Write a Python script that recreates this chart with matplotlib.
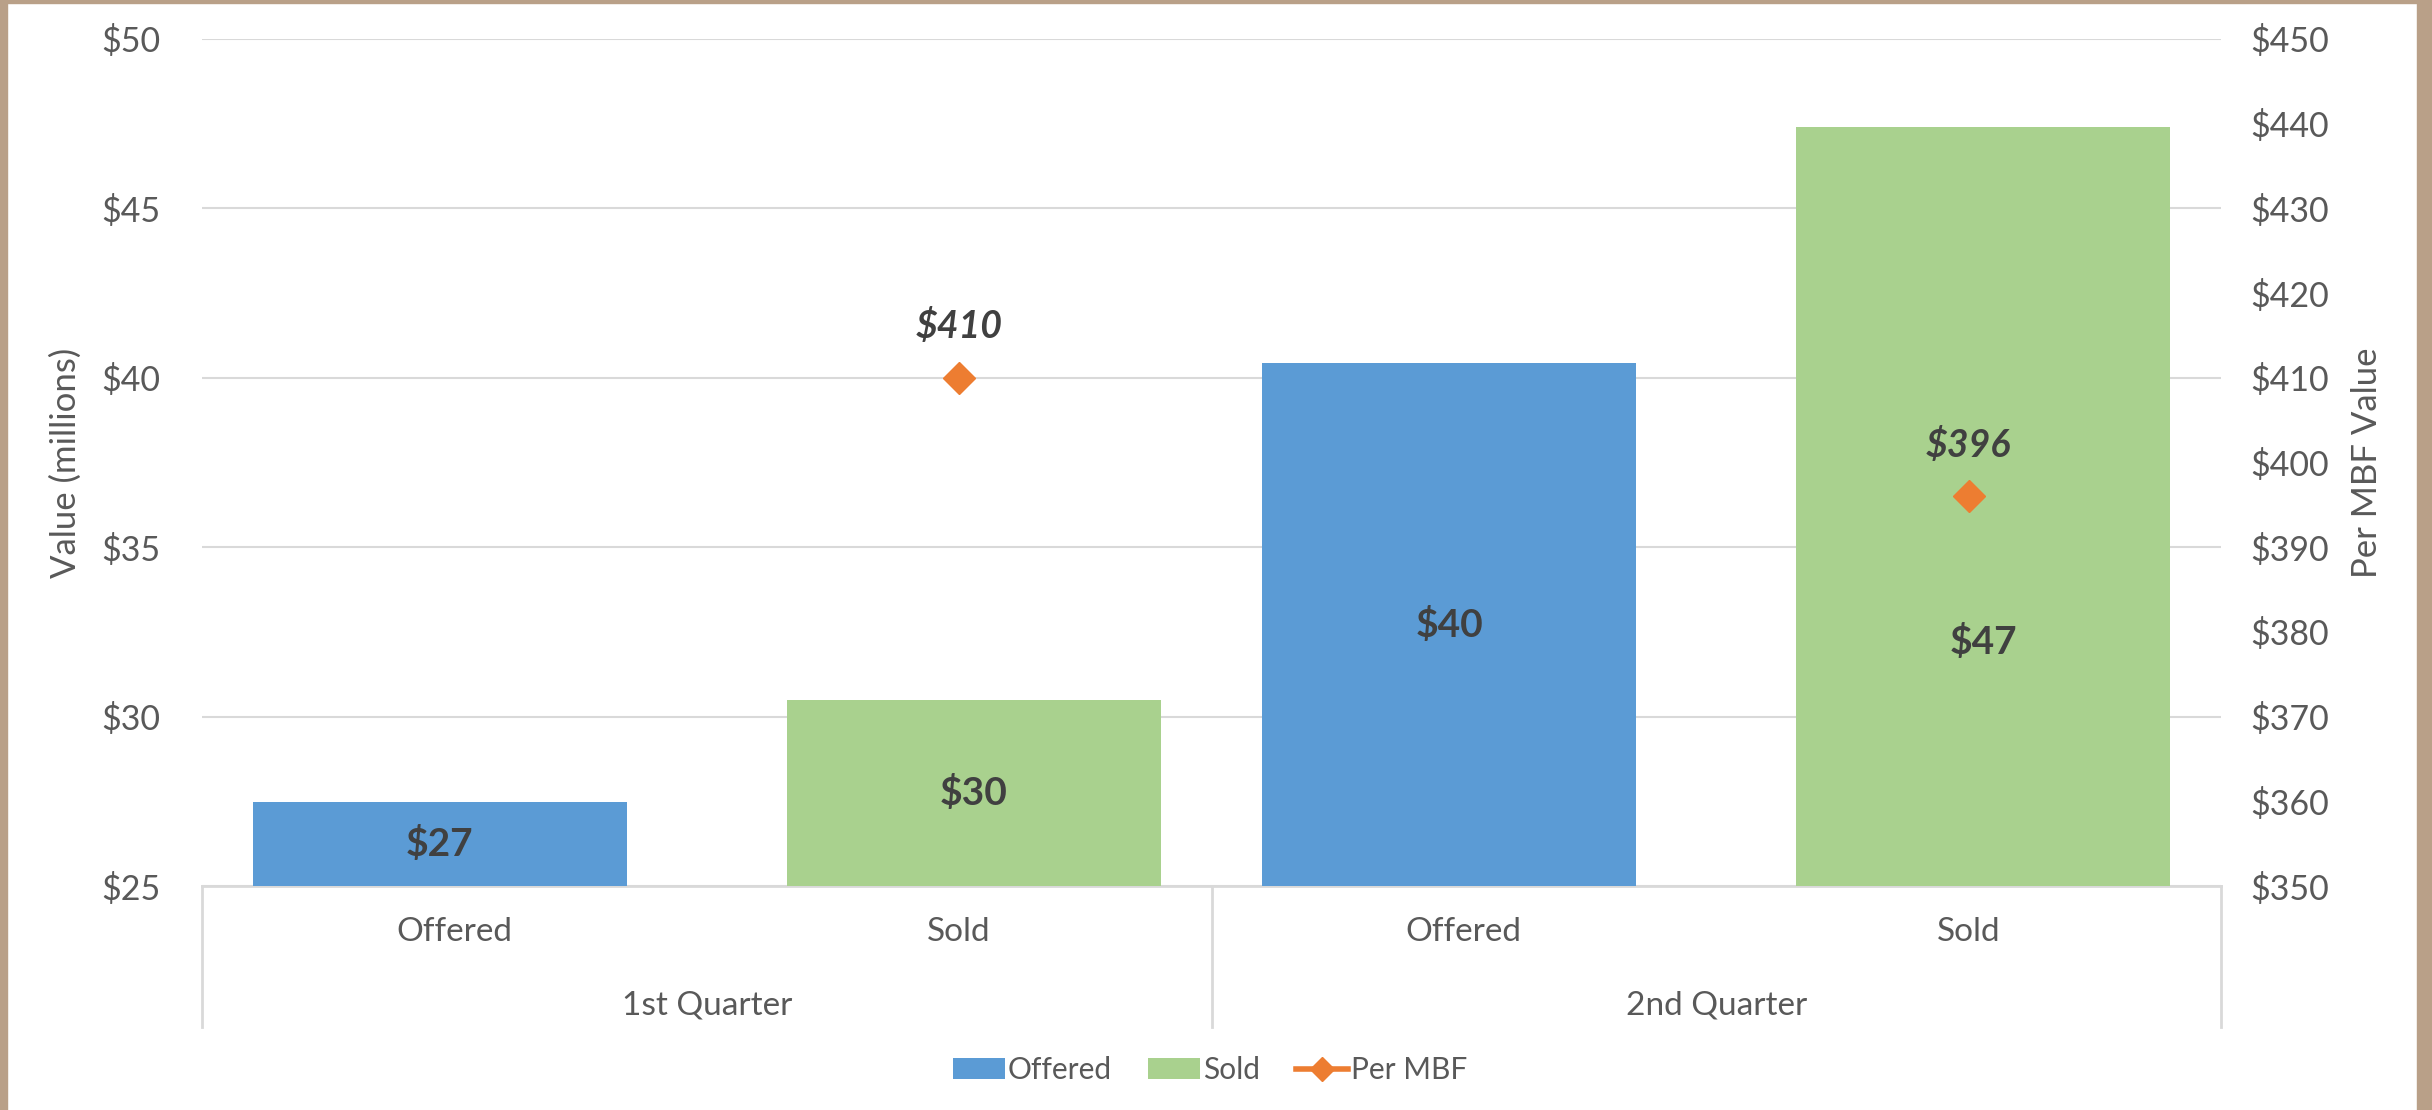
import matplotlib
matplotlib.use("Agg")
import matplotlib.pyplot as plt
from matplotlib.patches import Patch, Rectangle
from matplotlib.lines import Line2D

plt.rcParams["font.family"] = ["Lato", "DejaVu Sans"]

# data
quarters = ["1st Quarter", "2nd Quarter"]
statuses = ["Offered", "Sold"]
offered = [27.47, 40.43]
sold = [30.49, 47.39]
per_mbf = [410, 396]

left_ticks = [25, 30, 35, 40, 45, 50]
right_ticks = [350, 360, 370, 380, 390, 400, 410, 420, 430, 440, 450]

c_offered = "#5B9BD5"
c_sold = "#A9D18E"
c_mbf = "#ED7D31"
c_text = "#595959"
c_label = "#404040"
c_grid = "#D9D9D9"

fig = plt.figure(figsize=(24.32, 11.10), dpi=100)
ax = fig.add_axes([0.0831, 0.2018, 0.9132 - 0.0831, 0.9649 - 0.2018])
ax2 = ax.twinx()

# category slots: offered/sold alternate within each quarter
x_off = [2 * i for i in range(len(quarters))]
x_sold = [2 * i + 1 for i in range(len(quarters))]
shift = 0.029
width = 0.74

ax.bar([x - shift for x in x_off], offered, width=width, color=c_offered, zorder=2)
ax.bar([x + shift for x in x_sold], sold, width=width, color=c_sold, zorder=2)

ax.set_ylim(25, 50)
ax.set_xlim(-0.5, 3.5)
ax.set_yticks(left_ticks)
ax.set_yticklabels([f"${v}" for v in left_ticks])
ax.yaxis.grid(True, color=c_grid, linewidth=1.5, zorder=0)
ax.set_axisbelow(True)
ax.set_xticks([])
for s in ax.spines.values():
    s.set_visible(False)
ax.tick_params(axis="y", length=0, labelsize=24.5, labelcolor=c_text, pad=30)
ax.set_ylabel("Value (millions)", fontsize=25, color=c_text, labelpad=14)

# value labels in bars
label_y = [25 + (v - 25) / 2 for v in offered] + [25 + (v - 25) / 2 for v in sold]
label_y[3] = 32.2  # nudged down to clear the per-MBF label
xs = [x - shift for x in x_off] + [x + shift for x in x_sold]
vals = offered + sold
for x, y, v in zip(xs, label_y, vals):
    ax.text(x, y, f"${v:.0f}", ha="center", va="center", fontsize=28,
            fontweight="bold", color=c_label, zorder=3)

# per MBF on secondary axis
ax2.plot(x_sold, per_mbf, linestyle="none", marker="D", markersize=16,
         color=c_mbf, zorder=4)
for x, v in zip(x_sold, per_mbf):
    ax2.annotate(f"${v}", (x, v), xytext=(0, 37), textcoords="offset points",
                 ha="center", va="center", fontsize=27, fontweight="bold",
                 fontstyle="italic", color=c_label)
ax2.set_ylim(350, 450)
ax2.set_yticks(right_ticks)
ax2.set_yticklabels([f"${v}" for v in right_ticks])
for s in ax2.spines.values():
    s.set_visible(False)
ax2.tick_params(axis="y", length=0, labelsize=24.5, labelcolor=c_text, pad=21)
ax2.set_ylabel("Per MBF Value", fontsize=25, color=c_text, labelpad=16)

# two-level category axis
trans = ax.get_xaxis_transform()
box_bottom = -0.1665
ax.plot([-0.5, 3.5], [0, 0], color=c_grid, linewidth=2, transform=trans, clip_on=False, zorder=1)
for xv in [-0.5, 1.5, 3.5]:
    ax.plot([xv, xv], [0, box_bottom], color=c_grid, linewidth=2, transform=trans, clip_on=False)
for i, q in enumerate(quarters):
    for j, st in enumerate(statuses):
        ax.text(2 * i + j, -0.0543, st, transform=trans, ha="center", va="center",
                fontsize=24, color=c_text)
    ax.text(2 * i + 0.5, -0.1405, q, transform=trans, ha="center", va="center",
            fontsize=24, color=c_text)

handles = [
    Patch(facecolor=c_offered, label="Offered"),
    Patch(facecolor=c_sold, label="Sold"),
    Line2D([0], [0], color=c_mbf, linewidth=4, marker="D", markersize=12, label="Per MBF"),
]
fig.legend(handles=handles, loc="center", bbox_to_anchor=(0.4975, 0.036), ncol=3,
           frameon=False, fontsize=21.5, labelcolor=c_text, handlelength=1.75,
           handleheight=0.7, handletextpad=0.1, columnspacing=1.2)

# tan frame edges
tan = "#B9A088"
fig.patches.append(Rectangle((0, 0), 7 / 2432, 1, transform=fig.transFigure, color=tan, zorder=0))
fig.patches.append(Rectangle((1 - 15 / 2432, 0), 15 / 2432, 1, transform=fig.transFigure, color=tan, zorder=0))
fig.patches.append(Rectangle((0, 1 - 3 / 1110), 1, 3 / 1110, transform=fig.transFigure, color=tan, zorder=0))

fig.savefig("out.png", dpi=100, facecolor="white")
